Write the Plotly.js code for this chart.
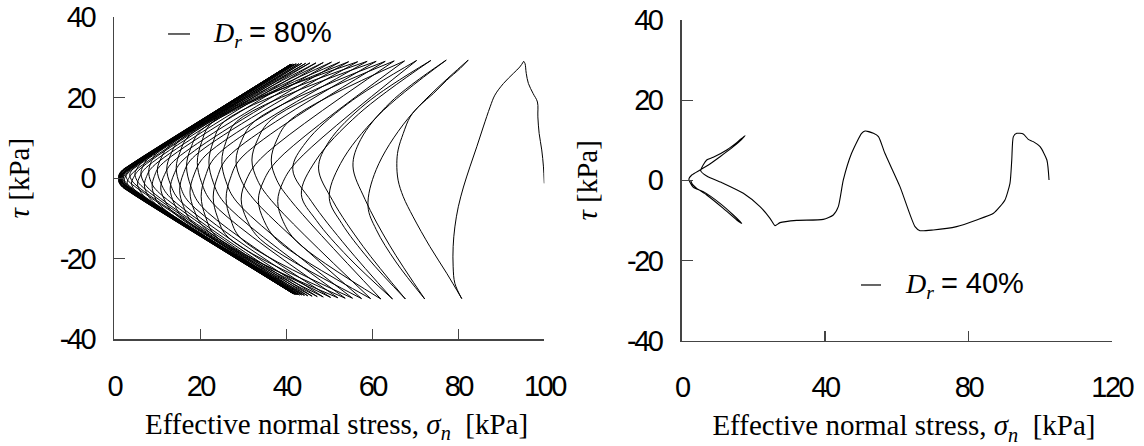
<!DOCTYPE html>
<html>
<head>
<meta charset="utf-8">
<script src="https://cdn.plot.ly/plotly-3.0.1.min.js"></script>
<style>
html,body{margin:0;padding:0;background:#fff;}
#chart{width:1144px;height:446px;}
.xtick text,.ytick text,.x2tick text,.y2tick text{letter-spacing:-2.5px;}
</style>
</head>
<body>
<div id="chart"></div>
<script>
// ---- Dr = 80% : effective normal stress (kPa), one sub-array per half cycle ----
const sigma80 = [
  [100, 99.8, 99.4, 98.8, 98.5, 98.4, 97.4, 96.3, 95.8, 95.5, 95.2],
  [95.2, 94.3, 92.8, 90.5, 88.5, 87.4, 85.8, 84.3, 82.7, 81.2, 80, 79.2, 78.8, 78.8, 79.2, 80.8],
  [80.8, 77.3, 73.4, 69.5, 67.2, 66, 65.7, 66, 67.2, 68.8, 71.1, 74.2, 77.3, 80.4, 82.3],
  [82.3, 68.3, 60.9, 59, 60.9, 65.5, 72.2],
  [72.2, 64.1, 58.3, 55.5, 57.3, 64.2, 77.2],
  [77.2, 61.4, 52.6, 50, 52.9, 59.1, 67.7],
  [67.7, 57.9, 50.8, 47.5, 50.0, 58.5, 73.6],
  [73.6, 56.8, 46.8, 43.5, 47.0, 54.4, 64.7],
  [64.7, 54.1, 45.9, 41.5, 44.6, 54.2, 70.3],
  [70.3, 42.5, 39.3, 38, 39.3, 42.5, 62],
  [62, 41, 37.8, 36.5, 37.8, 41, 67.5],
  [67.5, 38, 34.8, 33.5, 34.8, 38, 59.6],
  [59.6, 36.5, 33.3, 32, 33.3, 36.5, 65.1],
  [65.1, 34, 30.8, 29.5, 30.8, 34, 57.5],
  [57.5, 32.8, 29.6, 28.3, 29.6, 32.8, 63],
  [63, 29.5, 27, 26, 27, 29.5, 55.4],
  [55.4, 28.5, 26, 25, 26, 28.5, 60.9],
  [60.9, 26.5, 24, 23, 24, 26.5, 53.7],
  [53.7, 25.5, 23, 22, 23, 25.5, 58.8],
  [58.8, 23.7, 21.2, 20.2, 21.2, 23.7, 52],
  [52, 22.8, 20.3, 19.3, 20.3, 22.8, 56.6],
  [56.6, 21.1, 18.6, 17.6, 18.6, 21.1, 50.3],
  [50.3, 20.3, 17.8, 16.8, 17.8, 20.3, 54.5],
  [54.5, 18.2, 16.1, 15.2, 16.1, 18.2, 48.6],
  [48.6, 17.4, 15.3, 14.4, 15.3, 17.4, 52.4],
  [52.4, 16, 13.9, 13, 13.9, 16, 47.2],
  [47.2, 15.2, 13.1, 12.2, 13.1, 15.2, 50.5],
  [50.5, 13.8, 11.7, 10.8, 11.7, 13.8, 46],
  [46, 13, 10.9, 10, 10.9, 13, 48.6],
  [48.6, 10.8, 9.3, 8.8, 9.3, 10.8, 45],
  [45, 10, 8.5, 8, 8.5, 10, 46.9],
  [46.9, 9, 7.5, 7, 7.5, 9, 44.2],
  [44.2, 8.2, 6.7, 6.2, 6.7, 8.2, 45.5],
  [45.5, 7.4, 5.9, 5.4, 5.9, 7.4, 43.6],
  [43.6, 6.8, 5.3, 4.8, 5.3, 6.8, 44.5],
  [44.5, 6, 4.5, 4, 4.5, 6, 43.1],
  [43.1, 5.6, 4.1, 3.6, 4.1, 5.6, 43.6],
  [43.6, 5, 3.5, 3, 3.5, 5, 42.7],
  [42.7, 4.7, 3.2, 2.7, 3.2, 4.7, 42.9],
  [42.9, 4.8, 2.9, 2.3, 2.9, 4.8, 42.4],
  [42.4, 4.6, 2.7, 2.1, 2.7, 4.6, 42.3],
  [42.3, 4.4, 2.5, 1.9, 2.5, 4.4, 42.2],
  [42.2, 4.3, 2.4, 1.8, 2.4, 4.3, 41.8],
  [41.8, 4.1, 2.2, 1.6, 2.2, 4.1, 42],
  [42, 4.0, 2.1, 1.5, 2.1, 4.0, 41.4],
  [41.4, 3.9, 2.0, 1.4, 2.0, 3.9, 41.9],
  [41.9, 3.9, 2.0, 1.4, 2.0, 3.9, 41.1],
  [41.1, 3.8, 1.9, 1.3, 1.9, 3.8, 41.8],
  [41.8, 3.8, 1.9, 1.3, 1.9, 3.8, 40.9],
  [40.9, 3.7, 1.8, 1.2, 1.8, 3.7, 41.7],
  [41.7, 3.7, 1.8, 1.2, 1.8, 3.7, 40.8],
  [40.8, 3.7, 1.8, 1.2, 1.8, 3.7, 41.6],
  [41.6, 3.7, 1.8, 1.2, 1.8, 3.7, 41.2],
  [41.2, 3.6, 1.7, 1.1, 1.7, 3.6, 41.9],
  [41.9, 3.6, 1.7, 1.1, 1.7, 3.6, 40.9],
  [40.9, 3.6, 1.7, 1.1, 1.7, 3.6, 41.5],
  [41.5, 3.6, 1.7, 1.1, 1.7, 3.6, 41.3],
  [41.3, 3.5, 1.6, 1.0, 1.6, 3.5, 41.7],
  [41.7, 3.5, 1.6, 1.0, 1.6, 3.5, 40.7]
];
// ---- Dr = 80% : shear stress tau (kPa) ----
const tau80 = [
  [-1.3, 2.8, 7, 11.1, 15.2, 18.9, 21, 23.5, 26, 28.5, 29],
  [29, 27.6, 26, 23.5, 20.6, 17.7, 12.7, 7.8, 2.8, -2.2, -7.1, -12.1, -17, -22, -26.1, -29.9],
  [-29.9, -23.6, -17, -9.6, -4.6, -0.5, 3.6, 7, 11.1, 15.2, 18.1, 21, 24.3, 27.2, 29.3],
  [29.3, 14.8, 2.1, -7, -12.75, -20.8, -30],
  [-30, -16.8, -5.25, 3, 9.6, 18.8, 29.3],
  [29.3, 15.6, 3.6, -5, -11.25, -20, -30],
  [-30, -17, -5.6, 2.5, 9.2, 18.5, 29.2],
  [29.2, 15.9, 4.3, -4, -10.5, -19.6, -30],
  [-30, -17.1, -5.85, 2.2, 8.95, 18.4, 29.2],
  [29.2, 4.2, -0.8, -5.8, -10.8, -15.8, -30],
  [-30, -5.5, -0.5, 4.5, 9.5, 14.5, 29.1],
  [29.1, 4.5, -0.5, -5.5, -10.5, -15.5, -29.9],
  [-29.9, -5.5, -0.5, 4.5, 9.5, 14.5, 29.1],
  [29.1, 4.8, -0.2, -5.2, -10.2, -15.2, -29.9],
  [-29.9, -5.7, -0.7, 4.3, 9.3, 14.3, 29],
  [29, 5, 0, -5, -10, -15, -29.8],
  [-29.8, -5.9, -0.9, 4.1, 9.1, 14.1, 29],
  [29, 5.3, 0.3, -4.7, -9.7, -14.7, -29.8],
  [-29.8, -6, -1, 4, 9, 14, 29],
  [29, 5.5, 0.5, -4.5, -9.5, -14.5, -29.7],
  [-29.7, -6.1, -1.1, 3.9, 8.9, 13.9, 28.9],
  [28.9, 5.5, 1.0, -3.5, -8, -12.5, -29.6],
  [-29.6, -7, -2, 3.0, 7.5, 12, 28.9],
  [28.9, 5.0, 1.2, -3.0, -7, -11, -29.5],
  [-29.5, -6, -1.8, 2.6, 6.5, 10.5, 28.8],
  [28.8, 4.5, 1.0, -2.7, -6.2, -9.8, -29.4],
  [-29.4, -5.5, -1.6, 2.3, 5.8, 9.4, 28.8],
  [28.8, 4.2, 0.9, -2.4, -5.4, -8.6, -29.3],
  [-29.3, -4.8, -1.4, 2.0, 5.0, 8.2, 28.7],
  [28.7, 3.2, 0.4, -2.0, -4.3, -6.9, -29.2],
  [-29.2, -3.2, -0.8, 1.6, 3.8, 6.3, 28.6],
  [28.6, 2.9, 0.4, -1.7, -3.6, -5.8, -29.1],
  [-29.1, -2.8, -0.7, 1.3, 3.0, 5.2, 28.6],
  [28.6, 2.6, 0.3, -1.4, -3.0, -4.9, -29],
  [-29, -2.4, -0.6, 1.0, 2.4, 4.3, 28.5],
  [28.5, 2.3, 0.2, -1.2, -2.6, -4.0, -29],
  [-29, -2.2, -0.6, 0.8, 2.0, 3.6, 28.5],
  [28.5, 2.0, 0.2, -1.0, -2.2, -3.4, -28.9],
  [-28.9, -2.0, -0.6, 0.6, 1.7, 3.0, 28.4],
  [28.4, 2.6, 0.9, -0.6, -1.9, -3.4, -28.9],
  [-28.9, -2.8, -1.1, 0.4, 1.7, 3.2, 28.4],
  [28.4, 2.6, 0.9, -0.6, -1.9, -3.4, -28.8],
  [-28.8, -2.8, -1.1, 0.4, 1.7, 3.2, 28.3],
  [28.3, 2.6, 0.9, -0.6, -1.9, -3.4, -28.8],
  [-28.8, -2.8, -1.1, 0.4, 1.7, 3.2, 28.3],
  [28.3, 2.6, 0.9, -0.6, -1.9, -3.4, -28.7],
  [-28.7, -2.8, -1.1, 0.4, 1.7, 3.2, 28.2],
  [28.2, 2.6, 0.9, -0.6, -1.9, -3.4, -28.7],
  [-28.7, -2.8, -1.1, 0.4, 1.7, 3.2, 28.2],
  [28.2, 2.6, 0.9, -0.6, -1.9, -3.4, -28.6],
  [-28.6, -2.8, -1.1, 0.4, 1.7, 3.2, 28.1],
  [28.1, 2.6, 0.9, -0.6, -1.9, -3.4, -28.6],
  [-28.6, -2.8, -1.1, 0.4, 1.7, 3.2, 28.2],
  [28.2, 2.6, 0.9, -0.6, -1.9, -3.4, -28.7],
  [-28.7, -2.8, -1.1, 0.4, 1.7, 3.2, 28.1],
  [28.1, 2.6, 0.9, -0.6, -1.9, -3.4, -28.6],
  [-28.6, -2.8, -1.1, 0.4, 1.7, 3.2, 28.2],
  [28.2, 2.6, 0.9, -0.6, -1.9, -3.4, -28.7],
  [-28.7, -2.8, -1.1, 0.4, 1.7, 3.2, 28.0]
];

// ---- Dr = 40% ----
const sigma40 = [102.5, 101.9, 100, 98.1, 96.7, 95.3, 93.5, 92.55, 92.1, 91.6, 90.2, 88.8, 87, 82.3, 76.7, 70.2, 66.5, 65.1, 60.9, 56.7, 54.9, 53.5, 51.16, 50.2, 47.4, 45.1, 43.7, 42.3, 39.5, 32.1, 27.43, 26.04, 24.64, 21.85, 17.2, 11.6, 6.97, 5.3, 6.97, 8.8, 12.56, 15.35, 17.67, 16.75, 14.4, 10.69, 7.44, 5.1, 2.8, 2.0, 2.3, 3.25, 6.03, 10.69, 14.4, 16.75, 15.35, 11.6, 6.97, 4.19, 3.0, 2.5];
const tau40 = [0.1, 5.08, 8.4, 9.65, 10.23, 11.56, 11.73, 10.9, 5.08, -0.74, -4.9, -6.56, -8.23, -9.89, -11.55, -12.38, -12.55, -11.55, -1.57, 6.74, 10.9, 11.73, 12.3, 11.73, 6.74, 0.09, -6.56, -8.64, -9.73, -9.98, -10.55, -11.3, -9.47, -6.56, -3.24, -0.74, 1.08, 2.4, 5.08, 5.74, 7.57, 9.4, 11.15, 10.2, 8.4, 5.9, 3.83, 2.58, 1.33, 0.3, -0.5, -1.74, -2.82, -5.73, -8.64, -10.72, -9.89, -6.98, -3.65, -1.99, -1.0, 0];

// ---- ticks and labels ----
const xTicks80 = [0, 20, 40, 60, 80, 100];
const xTicks40 = [0, 40, 80, 120];
const yTicks = [-40, -20, 0, 20, 40];
const xTitle = '&nbsp;&nbsp;Effective normal stress, <i>σ</i><sub><i>n</i></sub>  [kPa]';
const yTitle = '<i>τ</i> [kPa]';
const legend80 = '<i>D</i><sub><i>r</i></sub> <span style="font-family:Liberation Sans, Arial, sans-serif;font-size:29px">= 80%</span>';
const legend40 = '<i>D</i><sub><i>r</i></sub> <span style="font-family:Liberation Sans, Arial, sans-serif;font-size:29px">= 40%</span>';

function joinSegments(segs) {
  const out = [];
  segs.forEach((s, i) => { if (i) out.push(null); s.forEach(v => out.push(v)); });
  return out;
}

const traces = [
  {
    x: joinSegments(sigma80), y: joinSegments(tau80),
    xaxis: 'x', yaxis: 'y', type: 'scatter', mode: 'lines',
    connectgaps: false,
    line: {color: '#000', width: 1, shape: 'spline', smoothing: 1},
    hoverinfo: 'skip'
  },
  {
    x: sigma40, y: tau40,
    xaxis: 'x2', yaxis: 'y2', type: 'scatter', mode: 'lines',
    line: {color: '#000', width: 1.1, shape: 'spline', smoothing: 0.6},
    hoverinfo: 'skip'
  }
];

const tickFont = {family: 'Liberation Sans, Arial, sans-serif', size: 29, color: '#000'};
const titleFont = {family: 'Liberation Serif, Times New Roman, serif', size: 29, color: '#000'};

function xAxis(domain, range, ticks, anchor) {
  return {
    domain: domain, range: range, anchor: anchor,
    tickmode: 'array', tickvals: ticks, ticktext: ticks.map(String),
    ticks: 'inside', ticklen: 10, tickwidth: 1.2, tickcolor: '#444',
    showline: true, linecolor: '#444', linewidth: 1.4,
    showgrid: false, zeroline: false,
    tickfont: tickFont, ticklabelstandoff: 20,
    title: {text: xTitle, font: titleFont, standoff: 13}
  };
}
function yAxis(domain, anchor) {
  return {
    domain: domain, range: [-40, 40], anchor: anchor,
    tickmode: 'array', tickvals: yTicks, ticktext: yTicks.map(String),
    ticks: 'inside', ticklen: 11, tickwidth: 1.2, tickcolor: '#444',
    showline: true, linecolor: '#444', linewidth: 1.4,
    showgrid: false, zeroline: false,
    tickfont: tickFont, ticklabelstandoff: 13,
    title: {text: yTitle, font: titleFont, standoff: 21}
  };
}

const layout = {
  width: 1144, height: 446,
  margin: {l: 0, r: 0, t: 0, b: 0},
  paper_bgcolor: '#fff', plot_bgcolor: '#fff',
  showlegend: false,
  xaxis: xAxis([0.0999, 0.4758], [0, 100], xTicks80, 'y'),
  yaxis: yAxis([0.2392, 0.9619], 'x'),
  xaxis2: xAxis([0.5959, 0.9718], [0, 120], xTicks40, 'y2'),
  yaxis2: yAxis([0.2361, 0.9552], 'x2'),
  shapes: [
    {type: 'line', xref: 'paper', yref: 'paper', x0: 0.1469, x1: 0.1661, y0: 0.9238, y1: 0.9238, line: {color: '#000', width: 1.2}},
    {type: 'line', xref: 'paper', yref: 'paper', x0: 0.7526, x1: 0.7701, y0: 0.361, y1: 0.361, line: {color: '#000', width: 1.2}}
  ],
  annotations: [
    {xref: 'paper', yref: 'paper', x: 0.1845, y: 0.9238, xanchor: 'left', yanchor: 'middle', showarrow: false,
     text: legend80, font: {family: 'Liberation Serif, Times New Roman, serif', size: 28, color: '#000'}},
    {xref: 'paper', yref: 'paper', x: 0.7895, y: 0.361, xanchor: 'left', yanchor: 'middle', showarrow: false,
     text: legend40, font: {family: 'Liberation Serif, Times New Roman, serif', size: 28, color: '#000'}}
  ]
};

Plotly.newPlot('chart', traces, layout, {staticPlot: true, displayModeBar: false});
</script>
</body>
</html>
